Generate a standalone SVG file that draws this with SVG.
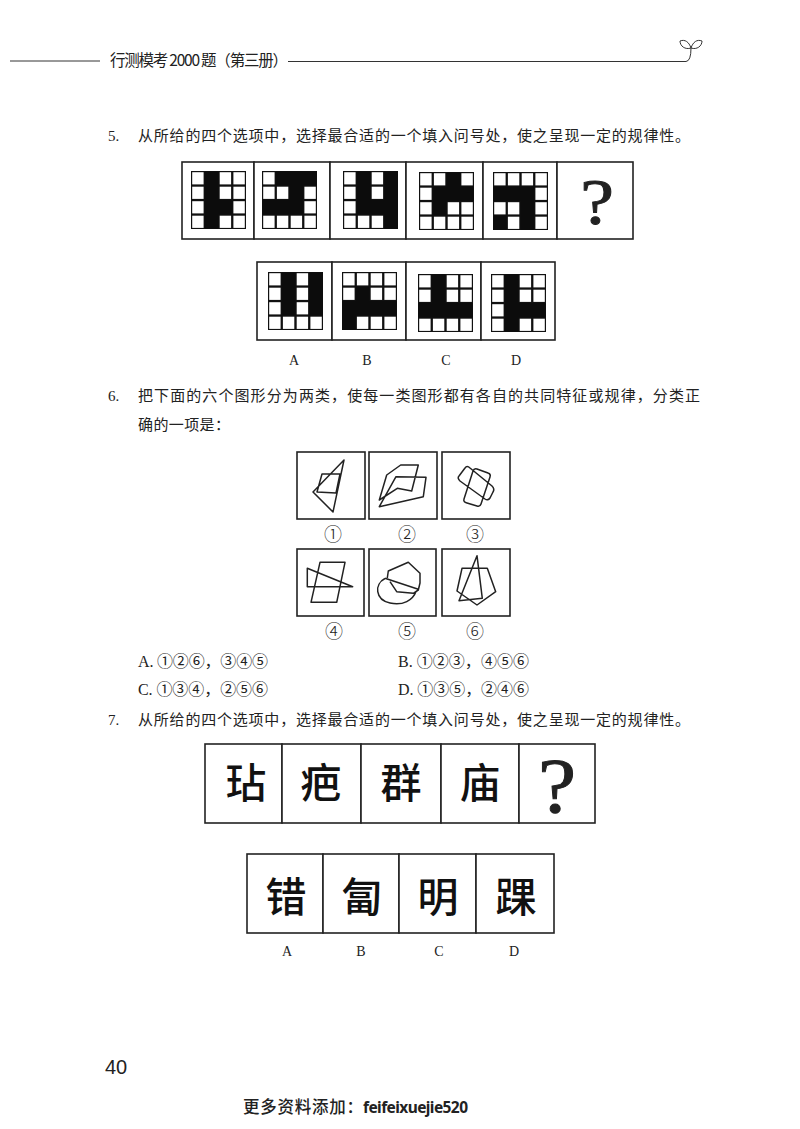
<svg xmlns="http://www.w3.org/2000/svg" xmlns:xlink="http://www.w3.org/1999/xlink" width="800" height="1129" viewBox="0 0 800 1129">
<style>
text{fill:#222;font-family:"Liberation Serif","Noto Sans CJK SC",serif}
.b{font-size:15px}
.o{font-size:16px}
.l{font-size:14px;text-anchor:middle}
.n{font-size:18px;text-anchor:middle;font-family:"Noto Sans CJK SC",sans-serif;font-weight:300}
.c{font-size:41px;text-anchor:middle;font-family:"Noto Sans CJK SC",sans-serif;font-weight:500;fill:#111}
.q{stroke:#222;stroke-width:.9}
.box{fill:#fff;stroke:#222;stroke-width:1.6}
.fig{fill:none;stroke:#222;stroke-width:1.5;stroke-linejoin:round}
.cell{fill:#fff}
.k{fill:#0c0c0c}
.rule{fill:none;stroke:#333;stroke-width:1}
</style>
<defs>
<g id="grid">
<rect width="55" height="58" fill="#111"/>
<g class="cell">
<rect x="1.2" y="1.2" width="11.4" height="12.2"/><rect x="14.9" y="1.2" width="11.4" height="12.2"/><rect x="28.7" y="1.2" width="11.4" height="12.2"/><rect x="42.4" y="1.2" width="11.4" height="12.2"/>
<rect x="1.2" y="15.7" width="11.4" height="12.2"/><rect x="14.9" y="15.7" width="11.4" height="12.2"/><rect x="28.7" y="15.7" width="11.4" height="12.2"/><rect x="42.4" y="15.7" width="11.4" height="12.2"/>
<rect x="1.2" y="30.2" width="11.4" height="12.2"/><rect x="14.9" y="30.2" width="11.4" height="12.2"/><rect x="28.7" y="30.2" width="11.4" height="12.2"/><rect x="42.4" y="30.2" width="11.4" height="12.2"/>
<rect x="1.2" y="44.7" width="11.4" height="12.2"/><rect x="14.9" y="44.7" width="11.4" height="12.2"/><rect x="28.7" y="44.7" width="11.4" height="12.2"/><rect x="42.4" y="44.7" width="11.4" height="12.2"/>
</g>
</g>
</defs>
<rect width="800" height="1129" fill="#fff"/>

<g id="header">
<path class="rule" d="M10 61H100"/>
<text x="110" y="66" font-size="15.500" textLength="178" lengthAdjust="spacing" style="font-family:'Noto Sans CJK SC',sans-serif;font-weight:400">行测模考 2000 题（第三册）</text>
<path class="rule" d="M288 61.500H686Q691 61 691 48"/>
<path class="rule" d="M691 48C689 42 685 39 680 41C680 46 685 50 691 48ZM691 48C693 42 697 39 702 41C702 46 697 50 691 48Z"/>
</g>

<g id="q5-text">
<text class="b" x="108" y="141">5.</text>
<text class="b" x="138" y="141" textLength="552" lengthAdjust="spacing">从所给的四个选项中，选择最合适的一个填入问号处，使之呈现一定的规律性。</text>
</g>

<g id="q5-sequence">
<g id="q5-1"><rect class="box" x="182" y="162" width="72" height="77"/><use href="#grid" x="191" y="171"/><path class="k" transform="translate(191 171) scale(13.75 14.5)" d="M1 0h1v4h-1zM2 2h1v1h-1z"/></g>
<g id="q5-2"><rect class="box" x="254" y="162" width="76" height="77"/><use href="#grid" x="262" y="171"/><path class="k" transform="translate(262 171) scale(13.75 14.5)" d="M1 0h3v1h-3zM2 1h1v1h-1zM0 2h3v1h-3z"/></g>
<g id="q5-3"><rect class="box" x="330" y="162" width="76" height="77"/><use href="#grid" x="343" y="171"/><path class="k" transform="translate(343 171) scale(13.75 14.5)" d="M1 0h1v3h-1zM3 0h1v4h-1zM2 2h1v1h-1z"/></g>
<g id="q5-4"><rect class="box" x="406" y="162" width="77" height="77"/><use href="#grid" x="419" y="172"/><path class="k" transform="translate(419 172) scale(13.75 14.5)" d="M2 0h1v2h-1zM1 1h3v1h-3zM1 2h1v1h-1z"/></g>
<g id="q5-5"><rect class="box" x="483" y="162" width="74" height="77"/><use href="#grid" x="493" y="172"/><path class="k" transform="translate(493 172) scale(13.75 14.5)" d="M0 1h3v1h-3zM2 2h1v2h-1zM0 3h1v1h-1z"/></g>
<g id="q5-q"><rect class="box" x="557" y="162" width="76" height="77"/><text class="q" transform="translate(597 224) scale(1.15 1)" font-size="66" text-anchor="middle">?</text></g>
</g>

<g id="q5-options">
<g id="q5-A"><rect class="box" x="257" y="262" width="75" height="78"/><use href="#grid" x="268" y="272"/><path class="k" transform="translate(268 272) scale(13.75 14.5)" d="M1 0h1v3h-1zM3 0h1v3h-1z"/><text class="l" x="294" y="365">A</text></g>
<g id="q5-B"><rect class="box" x="332" y="262" width="74" height="78"/><use href="#grid" x="342" y="272"/><path class="k" transform="translate(342 272) scale(13.75 14.5)" d="M1 1h1v1h-1zM0 2h4v1h-4zM0 3h1v1h-1z"/><text class="l" x="367" y="365">B</text></g>
<g id="q5-C"><rect class="box" x="406" y="262" width="75" height="78"/><use href="#grid" x="418" y="274"/><path class="k" transform="translate(418 274) scale(13.75 14.5)" d="M1 0h1v2h-1zM0 2h4v1h-4z"/><text class="l" x="446" y="365">C</text></g>
<g id="q5-D"><rect class="box" x="481" y="262" width="74" height="78"/><use href="#grid" x="491" y="274"/><path class="k" transform="translate(491 274) scale(13.75 14.5)" d="M1 0h1v4h-1zM2 2h2v1h-2z"/><text class="l" x="516" y="365">D</text></g>
</g>

<g id="q6-text">
<text class="b" x="108" y="401">6.</text>
<text class="b" x="138" y="401" textLength="562" lengthAdjust="spacing">把下面的六个图形分为两类，使每一类图形都有各自的共同特征或规律，分类正</text>
<text class="b" x="138" y="430" textLength="92" lengthAdjust="spacing">确的一项是：</text>
</g>

<g id="fig1"><rect class="box" x="297" y="452" width="68" height="67"/>
<path class="fig" d="M344 460L313 492L333 512ZM322 474H340L336 493L317 492Z"/><text class="n" x="333" y="541">①</text></g>
<g id="fig2"><rect class="box" x="369" y="452" width="68" height="67"/>
<path class="fig" d="M379.300 500L386.700 475L400.700 465H418.300L411.700 491L397.300 488.300ZM379.300 506.700L396 476.700L426 477.300L423.300 496.700Z"/><text class="n" x="407" y="541">②</text></g>
<g id="fig3"><rect class="box" x="442" y="452" width="68" height="67"/>
<path class="fig" d="M465 468Q467 465 470 468L492 486Q495 489 493 492L490 498Q488 501 485 499L460 481Q457 478 459 476ZM477 469L488 473Q491 474 490 477L481 504Q480 507 477 506L467 503Q463 502 464 499L473 471Q474 468 477 469Z"/><text class="n" x="475" y="541">③</text></g>
<g id="fig4"><rect class="box" x="297" y="549" width="67" height="67"/>
<path class="fig" d="M320 562.300H345L336.700 602.300H311ZM307.300 568.300L352.700 586.700H307.300Z"/><text class="n" x="334" y="638">④</text></g>
<g id="fig5"><rect class="box" x="369" y="549" width="67" height="67"/>
<path class="fig" d="M390 581.700L396.700 591.700L413.300 593.300L418.300 590L420 583L420 573.300L408.300 562.300L388.300 571L387.300 578M385 578.300L418.300 589.300M385 578.500C374 584 375 600 390 603C403 606 413 600 416 591.500"/><text class="n" x="407" y="638">⑤</text></g>
<g id="fig6"><rect class="box" x="442" y="549" width="68" height="67"/>
<path class="fig" d="M462 568.300H487.300L495.700 591.700L477 605L457 591ZM477 555.700L482.300 598.300L459 600.700Z"/><text class="n" x="475" y="638">⑥</text></g>

<g id="q6-options">
<text class="o" x="138" y="667" textLength="130" lengthAdjust="spacing">A. ①②⑥，③④⑤</text>
<text class="o" x="398" y="667" textLength="131" lengthAdjust="spacing">B. ①②③，④⑤⑥</text>
<text class="o" x="138" y="695" textLength="130" lengthAdjust="spacing">C. ①③④，②⑤⑥</text>
<text class="o" x="398" y="695" textLength="131" lengthAdjust="spacing">D. ①③⑤，②④⑥</text>
</g>

<g id="q7-text">
<text class="b" x="108" y="725">7.</text>
<text class="b" x="138" y="725" textLength="552" lengthAdjust="spacing">从所给的四个选项中，选择最合适的一个填入问号处，使之呈现一定的规律性。</text>
</g>

<g id="q7-sequence">
<g id="q7-1"><rect class="box" x="205" y="744" width="77" height="79"/><text class="c" x="246" y="798">玷</text></g>
<g id="q7-2"><rect class="box" x="282" y="744" width="79" height="79"/><text class="c" x="321" y="798">疤</text></g>
<g id="q7-3"><rect class="box" x="361" y="744" width="80" height="79"/><text class="c" x="401" y="798">群</text></g>
<g id="q7-4"><rect class="box" x="441" y="744" width="78" height="79"/><text class="c" x="480" y="798">庙</text></g>
<g id="q7-q"><rect class="box" x="519" y="744" width="76" height="79"/><text class="q" transform="translate(557 812) scale(1.1 1)" font-size="78" text-anchor="middle">?</text></g>
</g>

<g id="q7-options">
<g id="q7-A"><rect class="box" x="247" y="854" width="76" height="79"/><text class="c" x="286" y="912">错</text><text class="l" x="287" y="956">A</text></g>
<g id="q7-B"><rect class="box" x="323" y="854" width="76" height="79"/><text class="c" x="362" y="912">匐</text><text class="l" x="361" y="956">B</text></g>
<g id="q7-C"><rect class="box" x="399" y="854" width="77" height="79"/><text class="c" x="438" y="912">明</text><text class="l" x="439" y="956">C</text></g>
<g id="q7-D"><rect class="box" x="476" y="854" width="78" height="79"/><text class="c" x="516" y="912">踝</text><text class="l" x="514" y="956">D</text></g>
</g>

<g id="footer">
<text x="105" y="1074" font-size="20" style="font-family:'Liberation Sans',sans-serif">40</text>
<text x="243" y="1113" font-size="16.500" font-weight="500" textLength="120" lengthAdjust="spacing" style="font-family:'Noto Sans CJK SC',sans-serif">更多资料添加：</text>
<text x="363" y="1113" font-size="15.500" font-weight="700" textLength="105" lengthAdjust="spacing" style="font-family:'Noto Sans',sans-serif">feifeixuejie520</text>
</g>
</svg>
